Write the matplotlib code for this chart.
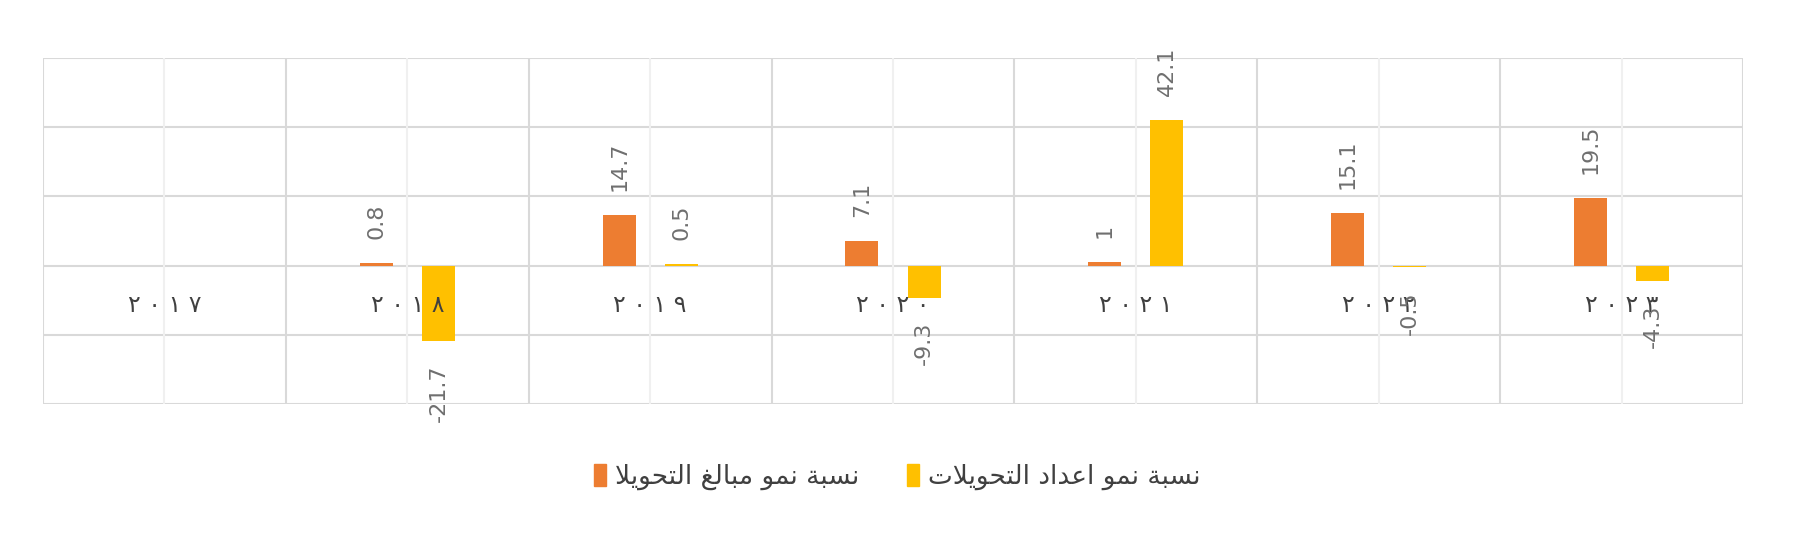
import numpy as np
import matplotlib
matplotlib.use('Agg')
import matplotlib.pyplot as plt
from matplotlib.patches import Patch

# データ
years = ['٢ ٠ ١ ٧', '٢ ٠ ١ ٨', '٢ ٠ ١ ٩', '٢ ٠ ٢ ٠', '٢ ٠ ٢ ١', '٢ ٠ ٢ ٢', '٢ ٠ ٢ ٣']
amount_growth = [np.nan, 0.8, 14.7, 7.1, 1, 15.1, 19.5]
count_growth = [np.nan, -21.7, 0.5, -9.3, 42.1, -0.5, -4.3]
label_amount = 'نسبة نمو مبالغ التحويلا'
label_count = 'نسبة نمو اعداد التحويلات'

# アラビア文字の簡易シェーピング (isolated, final, initial, medial)
FORMS = {
    'ا': ('\uFE8D', '\uFE8E', None, None),
    'ب': ('\uFE8F', '\uFE90', '\uFE91', '\uFE92'),
    'ة': ('\uFE93', '\uFE94', None, None),
    'ت': ('\uFE95', '\uFE96', '\uFE97', '\uFE98'),
    'ح': ('\uFEA1', '\uFEA2', '\uFEA3', '\uFEA4'),
    'د': ('\uFEA9', '\uFEAA', None, None),
    'س': ('\uFEB1', '\uFEB2', '\uFEB3', '\uFEB4'),
    'ع': ('\uFEC9', '\uFECA', '\uFECB', '\uFECC'),
    'غ': ('\uFECD', '\uFECE', '\uFECF', '\uFED0'),
    'ل': ('\uFEDD', '\uFEDE', '\uFEDF', '\uFEE0'),
    'م': ('\uFEE1', '\uFEE2', '\uFEE3', '\uFEE4'),
    'ن': ('\uFEE5', '\uFEE6', '\uFEE7', '\uFEE8'),
    'و': ('\uFEED', '\uFEEE', None, None),
    'ي': ('\uFEF1', '\uFEF2', '\uFEF3', '\uFEF4'),
}


def joins_left(c):
    return c in FORMS and FORMS[c][2] is not None


def shape(s):
    # lam-alef ligature
    s = s.replace('لا', '\u0001')
    out = []
    for i, c in enumerate(s):
        prev = s[i - 1] if i > 0 else ' '
        nxt = s[i + 1] if i + 1 < len(s) else ' '
        if c == '\u0001':
            out.append('\uFEFC' if joins_left(prev) else '\uFEFB')
            continue
        if c not in FORMS:
            out.append(c)
            continue
        iso, fin, ini, med = FORMS[c]
        r = joins_left(prev)
        l = ini is not None and (nxt in FORMS or nxt == '\u0001')
        if r and l:
            out.append(med)
        elif r:
            out.append(fin)
        elif l:
            out.append(ini)
        else:
            out.append(iso)
    return ''.join(out)[::-1]


plt.rcParams['font.family'] = ['DejaVu Sans']

c_amount = '#ED7D31'
c_count = '#FFC000'
grid_c = '#D9D9D9'

fig = plt.figure(figsize=(17.95, 5.36), dpi=100)
ax = fig.add_axes([0.024, 0.246, 0.947, 0.646])

x = np.arange(len(years))
w = 0.136
off = 0.128

# グリッド
for yv in [-40, -20, 0, 20, 40, 60]:
    ax.axhline(yv, color=grid_c, lw=1.5, zorder=0)
for xv in np.arange(-0.5, len(years), 1.0):
    ax.axvline(xv, color=grid_c, lw=1.5, zorder=0)
for xv in x:
    ax.axvline(xv, color='#F0F0F0', lw=1.5, zorder=0)

ax.bar(x - off, amount_growth, w, color=c_amount, zorder=2)
ax.bar(x + off, count_growth, w, color=c_count, zorder=2)

# 年ラベル
for i, yl in enumerate(years):
    ax.annotate(yl, (i, 0), xytext=(0, -28), textcoords='offset points',
                ha='center', va='center', fontsize=17, color='#404040', zorder=3)

# 値ラベル
for xs, vals in [(x - off, amount_growth), (x + off, count_growth)]:
    for xi, v in zip(xs, vals):
        if np.isnan(v):
            continue
        dy = 17.3 if v >= 0 else -17.3
        ax.annotate(f'{v:g}', (xi, v), xytext=(0, dy), textcoords='offset points',
                    ha='center', va='bottom' if v >= 0 else 'top', rotation=90,
                    fontsize=16, color='#6F6F6F', zorder=4)

ax.set_xlim(-0.5, len(years) - 0.5)
ax.set_ylim(-40, 60)
ax.set_xticks([])
ax.set_yticks([])
for sp in ax.spines.values():
    sp.set_visible(False)

handles = [Patch(color=c_amount, label=shape(label_amount)),
           Patch(color=c_count, label=shape(label_count))]
fig.legend(handles=handles, loc='center', bbox_to_anchor=(0.5, 0.11), ncol=2,
           frameon=False, fontsize=19, handlelength=0.45, handleheight=0.9,
           handletextpad=0.35, columnspacing=1.8, labelcolor='#404040')

fig.savefig('out.png', dpi=100)
